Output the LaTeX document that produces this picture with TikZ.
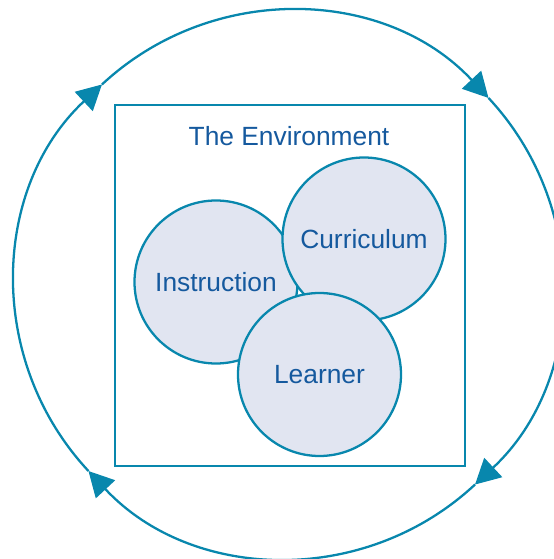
\documentclass[tikz,border=0pt]{standalone}
\usepackage{fontspec}
\setmainfont{Liberation Sans}
\usepackage{tikz}
\usetikzlibrary{arrows.meta, calc}
\definecolor{ringblue}{HTML}{0887AD}
\definecolor{textblue}{HTML}{15599E}
\definecolor{discfill}{HTML}{E1E5F1}

\begin{document}
\begin{tikzpicture}[x=0.02cm,y=0.02cm,
  every node/.style={text=textblue,font=\fontsize{15}{18}\selectfont},
  disc/.style={draw=ringblue,fill=discfill,line width=1.3pt}]
\useasboundingbox (0,0) rectangle (554,559);
\pgfmathsetmacro{\R}{273.5}
\pgfmathsetmacro{\r}{81.5}
\coordinate (c) at (288.5,274.5);

% Outer cycle, four arcs going clockwise
\foreach \t in {43,-47,-137,133}{
  \draw[ringblue,line width=1.3pt,-{Triangle[length=0.5cm,width=0.52cm]}]
    ($(c)+({\t+90}:\R*0.02cm)$) arc [start angle=\t+90, end angle=\t, radius=\R*0.02cm];
}

% The environment box
\draw[ringblue,line width=1.3pt] (115,93) rectangle (465,454);
\node (env) at (289,423) {The Environment};

% Overlapping discs
\draw[disc] (216,277) circle [radius=\r*0.02cm];
\node (instr) at (216,277) {Instruction};
\draw[disc] (364,320) circle [radius=\r*0.02cm];
\node (curr) at (364,320) {Curriculum};
\draw[disc] (319.5,184.5) circle [radius=\r*0.02cm];
\node (learn) at (319.5,184.5) {Learner};
\end{tikzpicture}
\end{document}
